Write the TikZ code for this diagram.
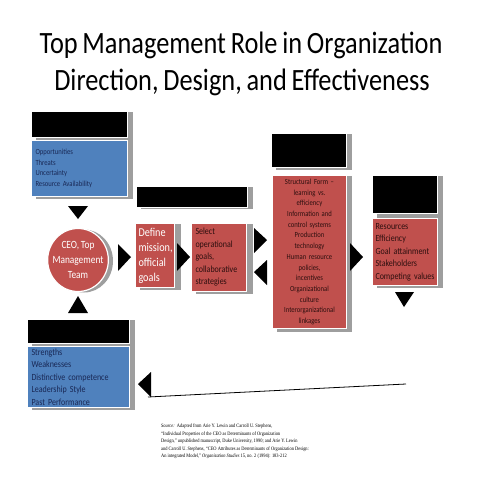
\documentclass[tikz,border=0pt]{standalone}
\usepackage{fontspec}
\setmainfont{Carlito}[FakeStretch=0.85, WordSpace=0.8]
\newfontfamily\srcfont{Liberation Serif}[FakeStretch=0.85]
\usepackage{xcolor}
\usetikzlibrary{
    shapes.geometric,
    calc
}
\definecolor{boxblue}{RGB}{79,129,189}
\definecolor{boxred}{RGB}{192,80,77}
\definecolor{navytext}{RGB}{25,40,85}
\definecolor{darktext}{RGB}{45,15,15}

\begin{document}
\begin{tikzpicture}[x=1pt, y=-1pt,
    head/.style={fill=black, draw=white, line width=1pt, anchor=north west, inner sep=0pt},
    bluebox/.style={fill=boxblue, draw=white, line width=1pt, anchor=north west, inner xsep=4pt, inner ysep=0pt, text=navytext, align=left},
    redbox/.style={fill=boxred, draw=white, line width=1pt, anchor=north west, inner xsep=3pt, inner ysep=0pt, align=left},
    shade/.style={fill=black!38},
    tip/.style={fill=black}]
\fill[white] (0,0) rectangle (480,480);
\useasboundingbox (0,0) rectangle (480,480);

% title
\node[anchor=base, font=\fontsize{31}{37}\selectfont] (titleTop) at (241,53) {Top Management Role in Organization};
\node[anchor=base, font=\fontsize{31}{37}\selectfont] (titleBottom) at (242,90) {Direction, Design, and Effectiveness};

% shadows
\fill[shade] (36,112) rectangle (133,199);
\fill[shade] (84,261) ellipse (29 and 31.5);
\fill[shade] (141,187) rectangle (253,209);
\fill[shade] (140,224) rectangle (181,290);
\fill[shade] (196,224) rectangle (253,294);
\fill[shade] (276,134) rectangle (352,170);
\fill[shade] (277,176) rectangle (352,332);
\fill[shade] (377,176) rectangle (443,288);
\fill[shade] (32,320) rectangle (135,410);

% environment
\node[head, minimum width=96pt, minimum height=26pt] (envHead) at (31,111) {};
\node[bluebox, text width=88pt, minimum height=56pt, font=\fontsize{7.8}{10.7}\selectfont] (envList) at (31,140)
    {Opportunities\\Threats\\Uncertainty\\Resource Availability};

% top management
\node[ellipse, fill=boxred, draw=white, line width=1.2pt, minimum width=58pt, minimum height=63pt, inner xsep=-4pt, inner ysep=0pt,
    text=white, align=center, font=\fontsize{11}{15}\selectfont] (ceo) at (78,260) {CEO, Top\\Management\\Team};

% direction
\node[head, minimum width=111pt, minimum height=21pt] (directionHead) at (136,186) {};
\node[redbox, text width=33pt, minimum height=64pt, text=white, font=\fontsize{12}{15}\selectfont] (mission) at (135,223)
    {Define\\mission,\\official\\goals};
\node[redbox, inner xsep=4pt, text width=47pt, minimum height=68pt, text=darktext, font=\fontsize{9.4}{12.5}\selectfont] (goals) at (191,223)
    {Select\\operational\\goals,\\collaborative\\strategies};

% design
\node[head, minimum width=75pt, minimum height=34pt] (designHead) at (271,133) {};
\node[redbox, inner xsep=2pt, text width=70pt, minimum height=153pt, align=center, text=darktext, font=\fontsize{7.8}{10.7}\selectfont] (design) at (272,175)
    {Structural Form –\\learning vs.\\efficiency\\Information and\\control systems\\Production\\technology\\Human resource\\policies,\\incentives\\Organizational\\culture\\Interorganizational\\linkages};

% effectiveness
\node[head, minimum width=65pt, minimum height=38pt] (outcomeHead) at (372,175) {};
\node[redbox, text width=59pt, minimum height=67pt, text=darktext, font=\fontsize{9.4}{12.6}\selectfont] (outcome) at (372,218)
    {Resources\\Efficiency\\Goal attainment\\Stakeholders\\Competing values};

% internal context
\node[head, minimum width=102pt, minimum height=24pt] (intHead) at (27,319) {};
\node[bluebox, text width=94pt, minimum height=61pt, font=\fontsize{9.4}{12.6}\selectfont] (intList) at (27,346)
    {Strengths\\Weaknesses\\Distinctive competence\\Leadership Style\\Past Performance};

% arrow tips
\fill[tip] (68,206) -- (88,206) -- (78,219) -- cycle;
\fill[tip] (68,313) -- (88,313) -- (78,296) -- cycle;
\fill[tip] (118,244) -- (131,257) -- (118,271) -- cycle;
\fill[tip] (177,243) -- (190,257) -- (177,271) -- cycle;
\fill[tip] (254,228) -- (267,240) -- (254,253) -- cycle;
\fill[tip] (267,260) -- (254,272) -- (267,285) -- cycle;
\fill[tip] (350,243) -- (363,257) -- (350,271) -- cycle;
\fill[tip] (395,292) -- (414,292) -- (404,307) -- cycle;
\fill[tip] (151,372) -- (138,384) -- (151,397) -- cycle;

% feedback line
\coordinate (fbStart) at (148,397);
\coordinate (fbEnd) at (406,384);
\draw[line width=0.8pt] (fbEnd) -- (fbStart);

% source
\node[anchor=north west, align=left, inner sep=0pt, font=\srcfont\fontsize{5.2}{7.5}\selectfont] (source) at (161,424)
    {\textit{Source:}\ \ Adapted from Arie Y. Lewin and Carroll U. Stephens,\\
     “Individual Properties of the CEO as Determinants of Organization\\
     Design,” unpublished manuscript, Duke University, 1990; and Arie Y. Lewin\\
     and Carroll U. Stephens, “CEO Attributes as Determinants of Organization Design:\\
     An integrated Model,” \textit{Organization Studies} 15, no. 2 (1994): 183-212};
\end{tikzpicture}
\end{document}
